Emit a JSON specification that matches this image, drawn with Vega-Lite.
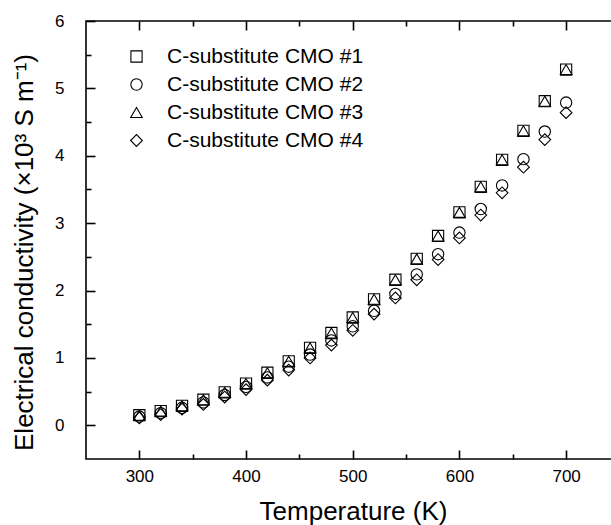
{
  "$schema": "https://vega.github.io/schema/vega-lite/v6.json",
  "width": 526,
  "height": 438,
  "autosize": {"type": "none"},
  "padding": {"left": 86, "top": 21, "right": 0, "bottom": 66},
  "background": "white",
  "config": {
    "font": "Liberation Sans",
    "view": {"stroke": "black", "strokeWidth": 1.6},
    "axis": {
      "grid": false,
      "domain": false,
      "ticks": true,
      "tickColor": "black",
      "tickWidth": 1.6,
      "tickOpacity": 1,
      "zindex": 2,
      "labelColor": "black",
      "titleColor": "black",
      "labelFont": "Liberation Sans",
      "titleFont": "Liberation Sans",
      "titleFontWeight": "normal",
      "labelFontSize": 17
    }
  },
  "datasets": {
    "cond": [
      {"T": 300, "series": "C-substitute CMO #1", "sigma": 0.15},
      {"T": 320, "series": "C-substitute CMO #1", "sigma": 0.21},
      {"T": 340, "series": "C-substitute CMO #1", "sigma": 0.29},
      {"T": 360, "series": "C-substitute CMO #1", "sigma": 0.38},
      {"T": 380, "series": "C-substitute CMO #1", "sigma": 0.49},
      {"T": 400, "series": "C-substitute CMO #1", "sigma": 0.62},
      {"T": 420, "series": "C-substitute CMO #1", "sigma": 0.78},
      {"T": 440, "series": "C-substitute CMO #1", "sigma": 0.95},
      {"T": 460, "series": "C-substitute CMO #1", "sigma": 1.15},
      {"T": 480, "series": "C-substitute CMO #1", "sigma": 1.37},
      {"T": 500, "series": "C-substitute CMO #1", "sigma": 1.60},
      {"T": 520, "series": "C-substitute CMO #1", "sigma": 1.87},
      {"T": 540, "series": "C-substitute CMO #1", "sigma": 2.16},
      {"T": 560, "series": "C-substitute CMO #1", "sigma": 2.47},
      {"T": 580, "series": "C-substitute CMO #1", "sigma": 2.81},
      {"T": 600, "series": "C-substitute CMO #1", "sigma": 3.16},
      {"T": 620, "series": "C-substitute CMO #1", "sigma": 3.54},
      {"T": 640, "series": "C-substitute CMO #1", "sigma": 3.94},
      {"T": 660, "series": "C-substitute CMO #1", "sigma": 4.37},
      {"T": 680, "series": "C-substitute CMO #1", "sigma": 4.81},
      {"T": 700, "series": "C-substitute CMO #1", "sigma": 5.28},
      {"T": 300, "series": "C-substitute CMO #2", "sigma": 0.13},
      {"T": 320, "series": "C-substitute CMO #2", "sigma": 0.18},
      {"T": 340, "series": "C-substitute CMO #2", "sigma": 0.26},
      {"T": 360, "series": "C-substitute CMO #2", "sigma": 0.34},
      {"T": 380, "series": "C-substitute CMO #2", "sigma": 0.45},
      {"T": 400, "series": "C-substitute CMO #2", "sigma": 0.57},
      {"T": 420, "series": "C-substitute CMO #2", "sigma": 0.71},
      {"T": 440, "series": "C-substitute CMO #2", "sigma": 0.87},
      {"T": 460, "series": "C-substitute CMO #2", "sigma": 1.05},
      {"T": 480, "series": "C-substitute CMO #2", "sigma": 1.26},
      {"T": 500, "series": "C-substitute CMO #2", "sigma": 1.47},
      {"T": 520, "series": "C-substitute CMO #2", "sigma": 1.70},
      {"T": 540, "series": "C-substitute CMO #2", "sigma": 1.95},
      {"T": 560, "series": "C-substitute CMO #2", "sigma": 2.24},
      {"T": 580, "series": "C-substitute CMO #2", "sigma": 2.54},
      {"T": 600, "series": "C-substitute CMO #2", "sigma": 2.86},
      {"T": 620, "series": "C-substitute CMO #2", "sigma": 3.21},
      {"T": 640, "series": "C-substitute CMO #2", "sigma": 3.56},
      {"T": 660, "series": "C-substitute CMO #2", "sigma": 3.95},
      {"T": 680, "series": "C-substitute CMO #2", "sigma": 4.36},
      {"T": 700, "series": "C-substitute CMO #2", "sigma": 4.79},
      {"T": 300, "series": "C-substitute CMO #3", "sigma": 0.15},
      {"T": 320, "series": "C-substitute CMO #3", "sigma": 0.21},
      {"T": 340, "series": "C-substitute CMO #3", "sigma": 0.29},
      {"T": 360, "series": "C-substitute CMO #3", "sigma": 0.38},
      {"T": 380, "series": "C-substitute CMO #3", "sigma": 0.49},
      {"T": 400, "series": "C-substitute CMO #3", "sigma": 0.62},
      {"T": 420, "series": "C-substitute CMO #3", "sigma": 0.78},
      {"T": 440, "series": "C-substitute CMO #3", "sigma": 0.95},
      {"T": 460, "series": "C-substitute CMO #3", "sigma": 1.15},
      {"T": 480, "series": "C-substitute CMO #3", "sigma": 1.37},
      {"T": 500, "series": "C-substitute CMO #3", "sigma": 1.60},
      {"T": 520, "series": "C-substitute CMO #3", "sigma": 1.87},
      {"T": 540, "series": "C-substitute CMO #3", "sigma": 2.16},
      {"T": 560, "series": "C-substitute CMO #3", "sigma": 2.47},
      {"T": 580, "series": "C-substitute CMO #3", "sigma": 2.81},
      {"T": 600, "series": "C-substitute CMO #3", "sigma": 3.16},
      {"T": 620, "series": "C-substitute CMO #3", "sigma": 3.54},
      {"T": 640, "series": "C-substitute CMO #3", "sigma": 3.94},
      {"T": 660, "series": "C-substitute CMO #3", "sigma": 4.37},
      {"T": 680, "series": "C-substitute CMO #3", "sigma": 4.81},
      {"T": 700, "series": "C-substitute CMO #3", "sigma": 5.28},
      {"T": 300, "series": "C-substitute CMO #4", "sigma": 0.11},
      {"T": 320, "series": "C-substitute CMO #4", "sigma": 0.16},
      {"T": 340, "series": "C-substitute CMO #4", "sigma": 0.24},
      {"T": 360, "series": "C-substitute CMO #4", "sigma": 0.31},
      {"T": 380, "series": "C-substitute CMO #4", "sigma": 0.42},
      {"T": 400, "series": "C-substitute CMO #4", "sigma": 0.53},
      {"T": 420, "series": "C-substitute CMO #4", "sigma": 0.67},
      {"T": 440, "series": "C-substitute CMO #4", "sigma": 0.82},
      {"T": 460, "series": "C-substitute CMO #4", "sigma": 1.00},
      {"T": 480, "series": "C-substitute CMO #4", "sigma": 1.19},
      {"T": 500, "series": "C-substitute CMO #4", "sigma": 1.41},
      {"T": 520, "series": "C-substitute CMO #4", "sigma": 1.65},
      {"T": 540, "series": "C-substitute CMO #4", "sigma": 1.89},
      {"T": 560, "series": "C-substitute CMO #4", "sigma": 2.16},
      {"T": 580, "series": "C-substitute CMO #4", "sigma": 2.46},
      {"T": 600, "series": "C-substitute CMO #4", "sigma": 2.78},
      {"T": 620, "series": "C-substitute CMO #4", "sigma": 3.12},
      {"T": 640, "series": "C-substitute CMO #4", "sigma": 3.45},
      {"T": 660, "series": "C-substitute CMO #4", "sigma": 3.83},
      {"T": 680, "series": "C-substitute CMO #4", "sigma": 4.24},
      {"T": 700, "series": "C-substitute CMO #4", "sigma": 4.64}
    ]
  },
  "data": {"name": "cond"},
  "layer": [
    {
      "mark": {"type": "point", "opacity": 0},
      "encoding": {
        "x": {
          "field": "T", "type": "quantitative",
          "scale": {"domain": [250, 743], "nice": false, "zero": false},
          "axis": {"orient": "bottom", "values": [350, 450, 550, 650], "labels": false, "tickSize": 5, "offset": -5, "title": null}
        },
        "y": {
          "field": "sigma", "type": "quantitative",
          "scale": {"domain": [-0.5, 6], "nice": false, "zero": false},
          "axis": {"orient": "left", "values": [0.5, 1.5, 2.5, 3.5, 4.5, 5.5], "labels": false, "tickSize": 5, "offset": -5, "title": null}
        }
      }
    },
    {
      "mark": {"type": "point", "opacity": 0},
      "encoding": {
        "x": {
          "field": "T", "type": "quantitative",
          "axis": {"orient": "top", "values": [300, 400, 500, 600, 700], "labels": false, "tickSize": 9, "offset": -9, "title": null}
        }
      }
    },
    {
      "mark": {"type": "point", "opacity": 0},
      "encoding": {
        "x": {
          "field": "T", "type": "quantitative",
          "axis": {"orient": "top", "values": [350, 450, 550, 650], "labels": false, "tickSize": 5, "offset": -5, "title": null}
        }
      }
    },
    {
      "mark": {"type": "point", "filled": false, "stroke": "black", "strokeWidth": 1.1, "opacity": 1},
      "encoding": {
        "x": {
          "field": "T", "type": "quantitative",
          "axis": {
            "orient": "bottom",
            "values": [300, 400, 500, 600, 700],
            "tickSize": 9,
            "offset": -9,
            "labelPadding": 9,
            "title": "Temperature (K)",
            "titleFontSize": 26,
            "titleX": 267,
            "titleY": 69,
            "titleBaseline": "alphabetic",
            "titleAlign": "center"
          }
        },
        "y": {
          "field": "sigma", "type": "quantitative",
          "axis": {
            "orient": "left",
            "values": [0, 1, 2, 3, 4, 5, 6],
            "format": "d",
            "tickSize": 9,
            "offset": -9,
            "labelPadding": 22,
            "title": "Electrical conductivity (×10³ S m⁻¹)",
            "titleFontSize": 26,
            "titleX": -63,
            "titleY": 231,
            "titleAngle": -90,
            "titleBaseline": "alphabetic",
            "titleAlign": "center"
          }
        },
        "shape": {
          "field": "series", "type": "nominal",
          "scale": {
            "domain": ["C-substitute CMO #1", "C-substitute CMO #2", "C-substitute CMO #3", "C-substitute CMO #4"],
            "range": ["square", "circle", "triangle-up", "diamond"]
          },
          "legend": {
            "orient": "none",
            "legendX": 40,
            "legendY": 25,
            "title": null,
            "padding": 0,
            "labelFontSize": 21,
            "labelFont": "Liberation Sans",
            "labelColor": "black",
            "labelLimit": 0,
            "symbolStrokeColor": "black",
            "symbolStrokeWidth": 1.1,
            "symbolFillColor": "transparent",
            "labelOffset": 20,
            "rowPadding": 6
          }
        },
        "size": {
          "field": "series", "type": "nominal",
          "scale": {
            "domain": ["C-substitute CMO #1", "C-substitute CMO #2", "C-substitute CMO #3", "C-substitute CMO #4"],
            "range": [125, 137, 160, 215]
          }
        }
      }
    }
  ],
  "resolve": {"axis": {"x": "independent", "y": "independent"}}
}
